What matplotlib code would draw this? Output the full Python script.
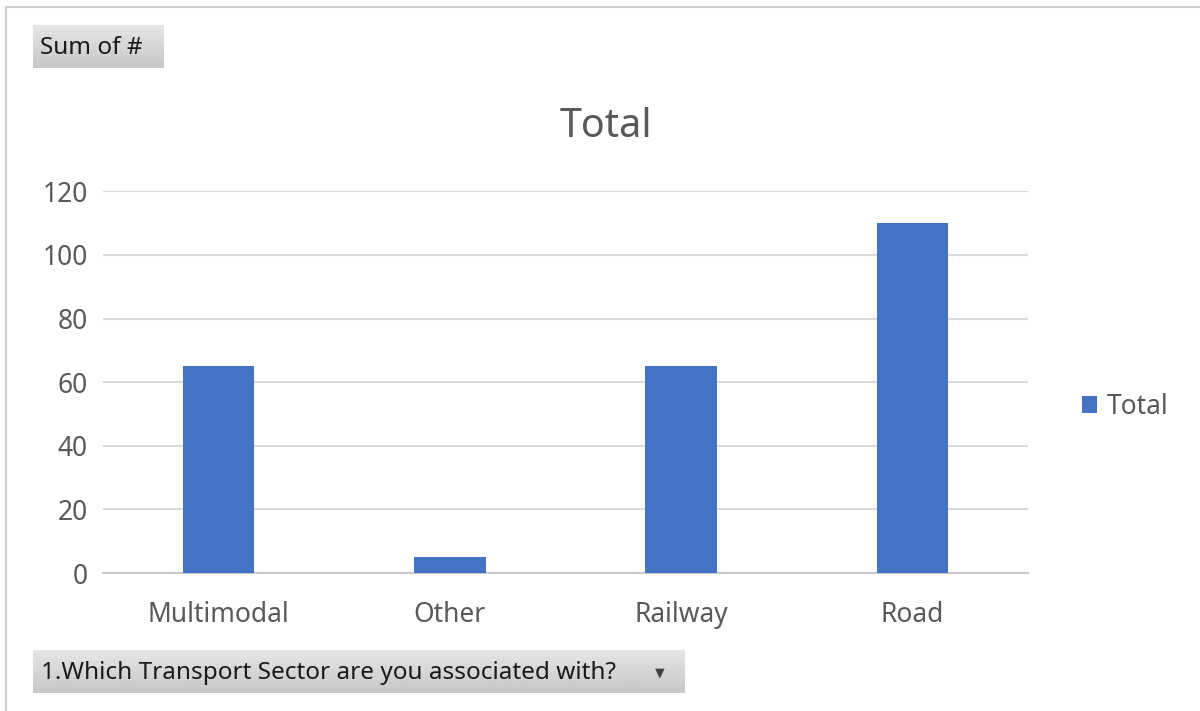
import numpy as np
import matplotlib.pyplot as plt
from matplotlib.patches import Rectangle

plt.rcParams['font.family'] = ['Noto Sans', 'DejaVu Sans']

# Pivot data: count of responses per transport sector
sectors = ['Multimodal', 'Other', 'Railway', 'Road']
totals = [65, 5, 65, 110]
yticks = [0, 20, 40, 60, 80, 100, 120]

bar_color = '#4472C4'
text_grey = '#595959'
grid_grey = '#d9d9d9'

fig = plt.figure(figsize=(12, 7.11), dpi=100)
fig.patch.set_facecolor('white')

# outer chart frame
fig.add_artist(Rectangle((0.005, -0.01), 1.2, 1.0, transform=fig.transFigure,
                         fill=False, edgecolor='#d0d0d0', linewidth=1.5))

ax = fig.add_axes([0.0858, 0.194, 0.771, 0.537])
x = np.arange(len(sectors))
ax.bar(x, totals, width=0.31, color=bar_color, label='Total', zorder=3)
ax.set_xlim(-0.5, len(sectors) - 0.5)
ax.set_ylim(0, 120)
ax.set_yticks(yticks)
ax.set_xticks(x)
ax.set_xticklabels(sectors)
ax.tick_params(axis='both', length=0, labelsize=19, colors=text_grey)
ax.tick_params(axis='x', pad=20)
ax.tick_params(axis='y', pad=11)
for lbl in ax.get_yticklabels():
    lbl.set_horizontalalignment('right')
ax.grid(axis='y', color=grid_grey, linewidth=1.5, zorder=0)
for side in ['top', 'right', 'left']:
    ax.spines[side].set_visible(False)
ax.spines['bottom'].set_color('#c8c8c8')
ax.spines['bottom'].set_linewidth(1.5)

fig.text(0.505, 1 - 127 / 711, 'Total', ha='center', va='center', fontsize=28.5,
         color=text_grey)

leg = ax.legend(loc='center left', bbox_to_anchor=(1.032, 0.435), frameon=False,
                fontsize=19, handlelength=0.6, handleheight=0.6, handletextpad=0.35)
for t in leg.get_texts():
    t.set_color(text_grey)


def field_button(rect, label, arrow=False):
    # grey gradient button like a pivot field
    bax = fig.add_axes(rect)
    grad = np.linspace(0.90, 0.78, 50).reshape(-1, 1)
    bax.imshow(grad, cmap='gray', vmin=0, vmax=1, aspect='auto', extent=[0, 1, 0, 1],
               origin='upper')
    bax.set_xlim(0, 1)
    bax.set_ylim(0, 1)
    bax.axis('off')
    bax.text(0.012 if arrow else 0.05, 0.47, label, transform=bax.transAxes, ha='left',
             va='center', fontsize=17.5, color='#1a1a1a')
    if arrow:
        bax.text(0.962, 0.47, '▼', transform=bax.transAxes, ha='center', va='center',
                 fontsize=9, color='#404040', family=['DejaVu Sans'])


field_button([0.0275, 1 - 68 / 711, 0.109, 43 / 711], 'Sum of #')
field_button([0.0275, 1 - 693 / 711, 0.543, 43 / 711],
             '1.Which Transport Sector are you associated with?', arrow=True)

fig.savefig('out.png', dpi=100, facecolor='white')
